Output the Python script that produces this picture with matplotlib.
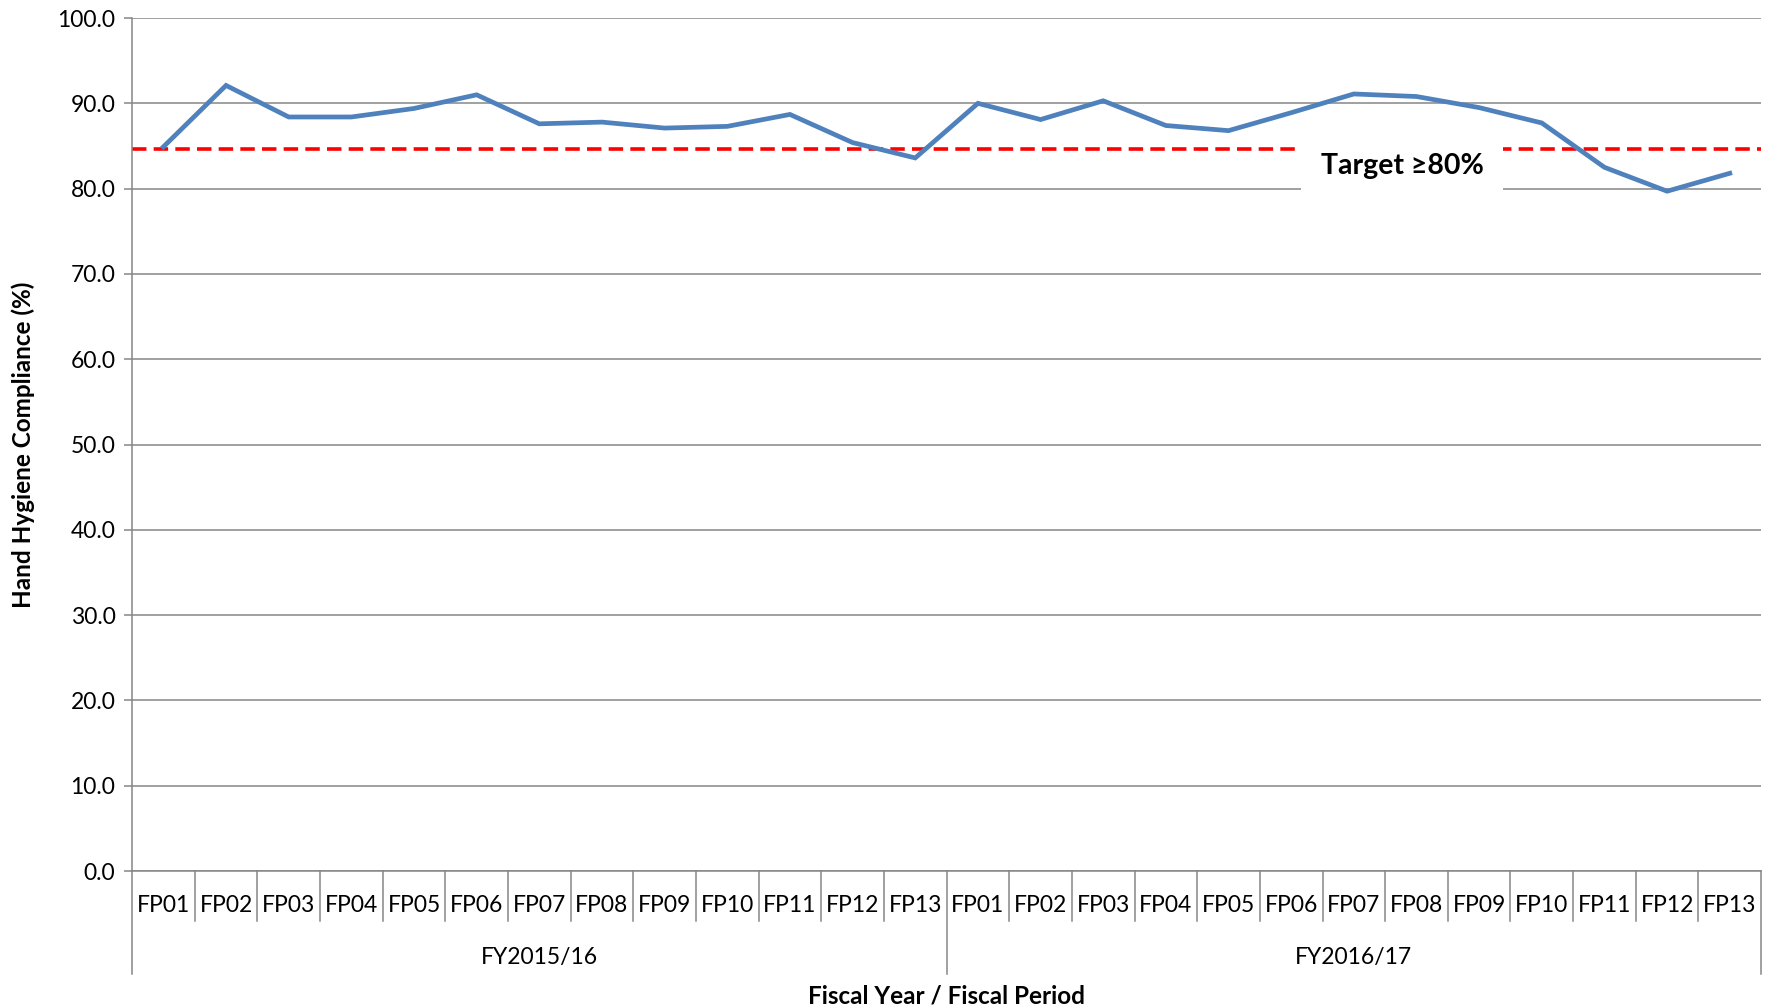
import matplotlib.pyplot as plt
import matplotlib.transforms as mtransforms

periods = ["FP01", "FP02", "FP03", "FP04", "FP05", "FP06", "FP07",
           "FP08", "FP09", "FP10", "FP11", "FP12", "FP13"]
years = ["FY2015/16", "FY2016/17"]

compliance_1516 = [84.9, 92.1, 88.4, 88.4, 89.4, 91.0, 87.6,
                   87.8, 87.1, 87.3, 88.7, 85.4, 83.6]
compliance_1617 = [90.0, 88.1, 90.3, 87.4, 86.8, 88.9, 91.1,
                   90.8, 89.5, 87.7, 82.5, 79.7, 81.8]
target_line = 84.7
target_label = "Target \u226580%"

values = compliance_1516 + compliance_1617
labels = periods * len(years)
x = list(range(len(values)))

plt.rcParams['font.family'] = ['Lato', 'DejaVu Sans']
grey = '#868686'

fig = plt.figure(figsize=(17.87, 10.08), dpi=100)
ax = fig.add_axes([0.0739, 0.1359, 0.9116, 0.8462])

ax.set_xlim(-0.5, len(values) - 0.5)
ax.set_ylim(0, 100)
ax.set_yticks(range(0, 101, 10))
ax.set_yticklabels([f"{v:.1f}" for v in range(0, 101, 10)], fontsize=16.5)
ax.yaxis.grid(True, color=grey, linewidth=1.1)
ax.set_axisbelow(True)
ax.tick_params(axis='y', length=6, width=1.1, color=grey, pad=6)
ax.set_xticks([])

for side in ['top', 'right']:
    ax.spines[side].set_visible(False)
ax.spines['left'].set_color(grey)
ax.spines['left'].set_linewidth(1.1)
ax.spines['bottom'].set_color(grey)
ax.spines['bottom'].set_linewidth(1.1)

# target line + label
ax.axhline(target_line, color='red', linewidth=2.6, dashes=(4, 2), zorder=2)
ax.text(19.77, 82.6, target_label, fontsize=20.5, fontweight='bold',
        ha='center', va='center', zorder=3,
        bbox=dict(boxstyle='square,pad=0.7', facecolor='white', edgecolor='none'))

# data
ax.plot(x, values, color='#4F81BD', linewidth=3.4, zorder=4,
        solid_joinstyle='miter')

# hierarchical category axis
trans = mtransforms.blended_transform_factory(ax.transData, ax.transAxes)
n = len(periods)
for i in range(len(values) + 1):
    low = -0.121 if i % n == 0 else -0.0586
    ax.plot([i - 0.5, i - 0.5], [0, low], color=grey, linewidth=1.1,
            transform=trans, clip_on=False)
for i, lab in enumerate(labels):
    ax.text(i, -0.041, lab, transform=trans, ha='center', va='center',
            fontsize=16.5)
for g, yr in enumerate(years):
    ax.text(g * n + (n - 1) / 2, -0.101, yr, transform=trans, ha='center',
            va='center', fontsize=16.5)

ax.text(0.5, -0.146, "Fiscal Year / Fiscal Period", transform=ax.transAxes,
        ha='center', va='center', fontsize=17.5, fontweight='bold')
ax.set_ylabel("Hand Hygiene Compliance (%)", fontsize=17.5, fontweight='bold',
              labelpad=16)

fig.savefig("out.png", dpi=100)
